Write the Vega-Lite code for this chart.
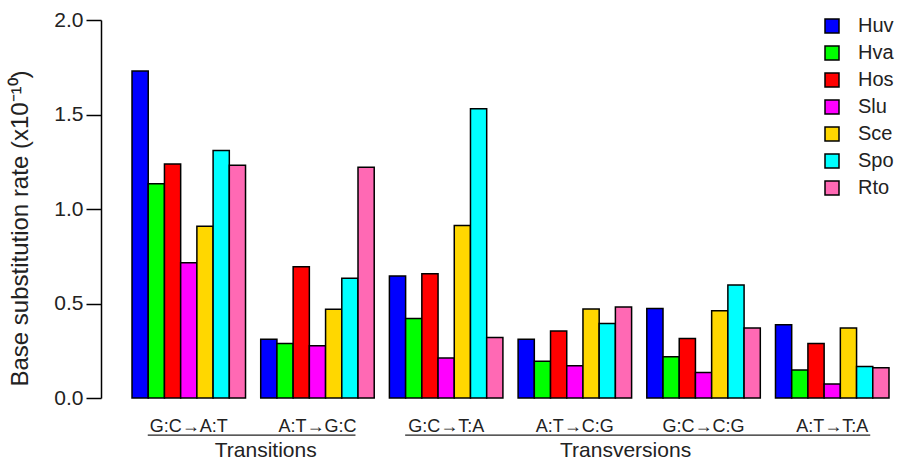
{
  "$schema": "https://vega.github.io/schema/vega-lite/v6.json",
  "width": 797,
  "height": 378,
  "autosize": {"type": "none"},
  "padding": {"left": 101, "top": 20, "right": 0, "bottom": 62},
  "background": "white",
  "config": {
    "view": {"stroke": null},
    "font": "Liberation Sans",
    "axis": {"labelFont": "Liberation Sans", "titleFont": "Liberation Sans"},
    "legend": {"labelFont": "Liberation Sans"}
  },
  "datasets": {
    "rates": [
      {"group": "G:C→A:T", "species": "Huv", "rate": 1.73},
      {"group": "G:C→A:T", "species": "Hva", "rate": 1.133},
      {"group": "G:C→A:T", "species": "Hos", "rate": 1.238},
      {"group": "G:C→A:T", "species": "Slu", "rate": 0.716},
      {"group": "G:C→A:T", "species": "Sce", "rate": 0.909},
      {"group": "G:C→A:T", "species": "Spo", "rate": 1.309},
      {"group": "G:C→A:T", "species": "Rto", "rate": 1.231},
      {"group": "A:T→G:C", "species": "Huv", "rate": 0.311},
      {"group": "A:T→G:C", "species": "Hva", "rate": 0.289},
      {"group": "A:T→G:C", "species": "Hos", "rate": 0.695},
      {"group": "A:T→G:C", "species": "Slu", "rate": 0.276},
      {"group": "A:T→G:C", "species": "Sce", "rate": 0.47},
      {"group": "A:T→G:C", "species": "Spo", "rate": 0.633},
      {"group": "A:T→G:C", "species": "Rto", "rate": 1.221},
      {"group": "G:C→T:A", "species": "Huv", "rate": 0.645},
      {"group": "G:C→T:A", "species": "Hva", "rate": 0.42},
      {"group": "G:C→T:A", "species": "Hos", "rate": 0.658},
      {"group": "G:C→T:A", "species": "Slu", "rate": 0.211},
      {"group": "G:C→T:A", "species": "Sce", "rate": 0.913},
      {"group": "G:C→T:A", "species": "Spo", "rate": 1.53},
      {"group": "G:C→T:A", "species": "Rto", "rate": 0.32},
      {"group": "A:T→C:G", "species": "Huv", "rate": 0.311},
      {"group": "A:T→C:G", "species": "Hva", "rate": 0.194},
      {"group": "A:T→C:G", "species": "Hos", "rate": 0.355},
      {"group": "A:T→C:G", "species": "Slu", "rate": 0.171},
      {"group": "A:T→C:G", "species": "Sce", "rate": 0.471},
      {"group": "A:T→C:G", "species": "Spo", "rate": 0.394},
      {"group": "A:T→C:G", "species": "Rto", "rate": 0.482},
      {"group": "G:C→C:G", "species": "Huv", "rate": 0.473},
      {"group": "G:C→C:G", "species": "Hva", "rate": 0.218},
      {"group": "G:C→C:G", "species": "Hos", "rate": 0.315},
      {"group": "G:C→C:G", "species": "Slu", "rate": 0.135},
      {"group": "G:C→C:G", "species": "Sce", "rate": 0.461},
      {"group": "G:C→C:G", "species": "Spo", "rate": 0.598},
      {"group": "G:C→C:G", "species": "Rto", "rate": 0.371},
      {"group": "A:T→T:A", "species": "Huv", "rate": 0.387},
      {"group": "A:T→T:A", "species": "Hva", "rate": 0.148},
      {"group": "A:T→T:A", "species": "Hos", "rate": 0.289},
      {"group": "A:T→T:A", "species": "Slu", "rate": 0.074},
      {"group": "A:T→T:A", "species": "Sce", "rate": 0.371},
      {"group": "A:T→T:A", "species": "Spo", "rate": 0.167},
      {"group": "A:T→T:A", "species": "Rto", "rate": 0.16}
    ],
    "brackets": [
      {"label": "Transitions", "start": "G:C→A:T", "end": "A:T→G:C", "anchor": "A:T→G:C"},
      {"label": "Transversions", "start": "G:C→T:A", "end": "A:T→T:A", "anchor": "A:T→C:G"}
    ]
  },
  "layer": [
    {
      "data": {"name": "rates"},
      "mark": {"type": "bar", "stroke": "black", "strokeWidth": 1.5},
      "encoding": {
        "x": {
          "field": "group", "type": "nominal",
          "scale": {
            "domain": ["G:C→A:T", "A:T→G:C", "G:C→T:A", "A:T→C:G", "G:C→C:G", "A:T→T:A"],
            "paddingInner": 0.118, "paddingOuter": 0.1555, "align": 0.775
          },
          "axis": {"title": null, "domain": false, "ticks": false, "labelAngle": 0, "labelPadding": 19, "labelFontSize": 18, "labelColor": "#222"}
        },
        "xOffset": {
          "field": "species", "type": "nominal",
          "scale": {"domain": ["Huv", "Hva", "Hos", "Slu", "Sce", "Spo", "Rto"], "paddingInner": 0, "paddingOuter": 0}
        },
        "y": {
          "field": "rate", "type": "quantitative",
          "scale": {"domain": [0, 2], "nice": false, "zero": true},
          "axis": {
            "title": "Base substitution rate (x10⁻¹⁰)",
            "values": [0, 0.5, 1, 1.5, 2], "format": ".1f", "grid": false,
            "labelFontSize": 21, "labelColor": "#222", "labelPadding": 3,
            "tickSize": 15, "tickColor": "black", "tickWidth": 1.5,
            "domainColor": "black", "domainWidth": 1.5,
            "titleFontSize": 24, "titleFontWeight": "normal", "titleColor": "#222",
            "titleX": -81, "titleY": 208, "titleAlign": "center", "titleBaseline": "middle", "titleAngle": -90
          }
        },
        "color": {
          "field": "species", "type": "nominal",
          "scale": {
            "domain": ["Huv", "Hva", "Hos", "Slu", "Sce", "Spo", "Rto"],
            "range": ["#0000FF", "#00FF00", "#FF0000", "#FF00FF", "#FFD700", "#00FFFF", "#FF69B4"]
          },
          "legend": {
            "title": null, "orient": "none", "legendX": 721, "legendY": -4,
            "symbolType": "square", "symbolSize": 196, "symbolStrokeColor": "black", "symbolStrokeWidth": 1.5,
            "symbolOpacity": 1,
            "labelFontSize": 20, "labelColor": "#222", "labelOffset": 16, "rowPadding": 7, "padding": 0
          }
        }
      }
    },
    {
      "data": {"name": "brackets"},
      "mark": {"type": "rule", "color": "#222", "strokeWidth": 1.2, "xOffset": -41, "x2Offset": 38},
      "encoding": {
        "x": {"field": "start", "type": "nominal"},
        "x2": {"field": "end"},
        "y": {"datum": -0.196}
      }
    },
    {
      "data": {"name": "brackets"},
      "transform": [{"filter": "datum.label === 'Transitions'"}],
      "mark": {"type": "text", "fontSize": 21, "color": "#222", "align": "center", "baseline": "middle"},
      "encoding": {
        "x": {"field": "anchor", "type": "nominal", "bandPosition": 0.044},
        "y": {"datum": -0.28},
        "text": {"field": "label"}
      }
    },
    {
      "data": {"name": "brackets"},
      "transform": [{"filter": "datum.label === 'Transversions'"}],
      "mark": {"type": "text", "fontSize": 21, "color": "#222", "align": "center", "baseline": "middle"},
      "encoding": {
        "x": {"field": "anchor", "type": "nominal", "bandPosition": 0.947},
        "y": {"datum": -0.28},
        "text": {"field": "label"}
      }
    }
  ]
}
